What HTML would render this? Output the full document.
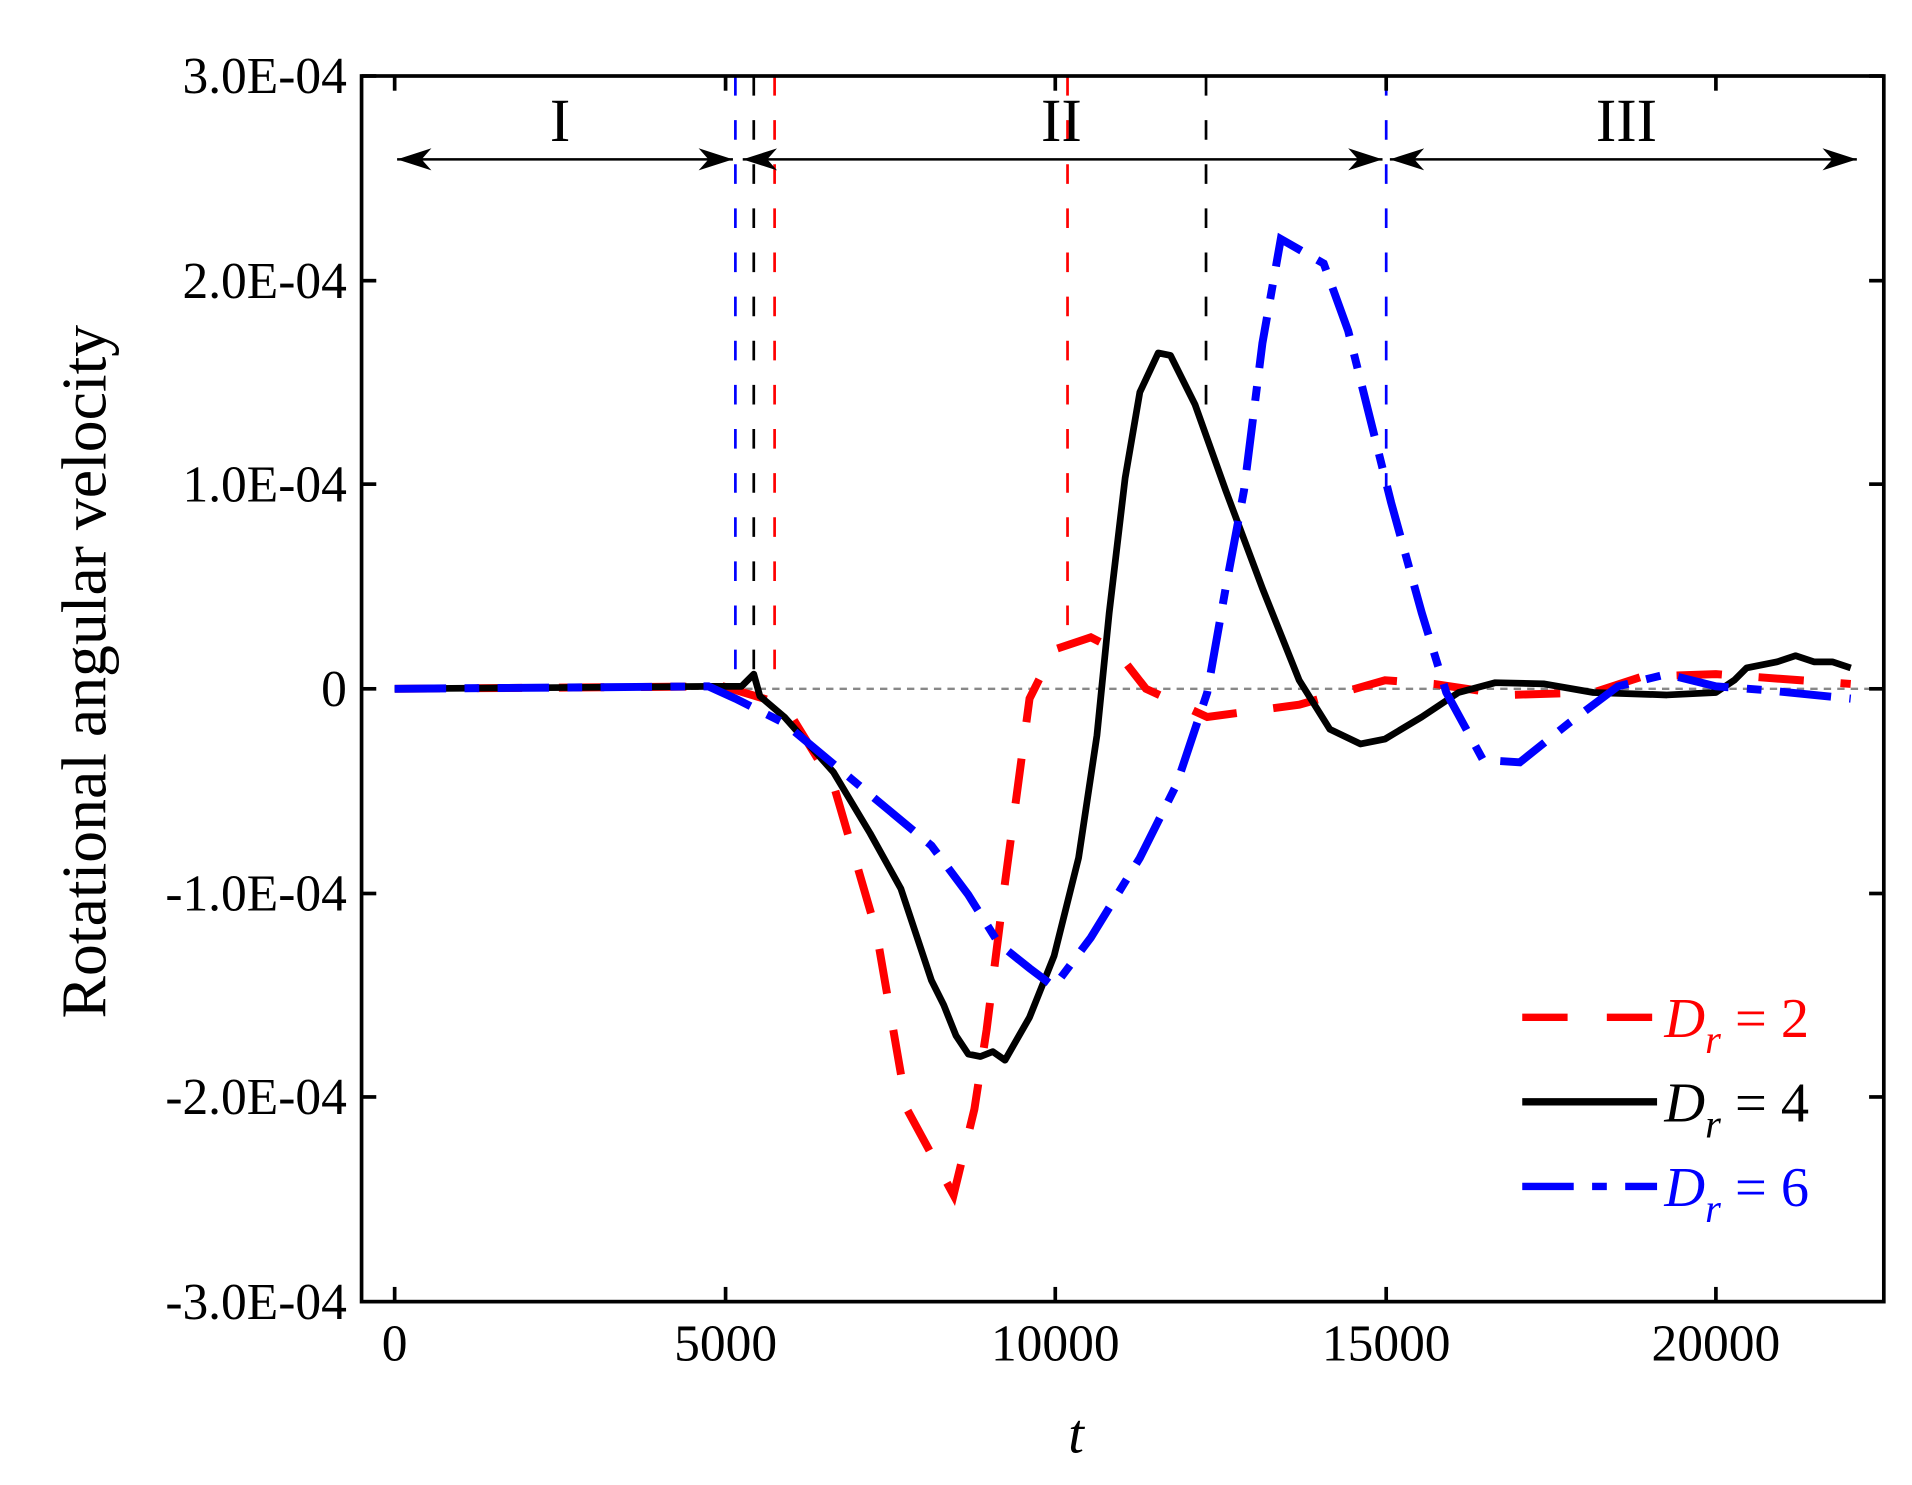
<!DOCTYPE html>
<html><head><meta charset="utf-8"><style>
html,body{margin:0;padding:0;background:#fff;width:1912px;height:1485px;overflow:hidden}
svg{display:block}
text{font-family:"Liberation Serif",serif}
</style></head><body>
<svg width="1912" height="1485" viewBox="0 0 1560 1211.6" xmlns="http://www.w3.org/2000/svg">
<defs>
<marker id="ar" markerWidth="30" markerHeight="20" refX="28" refY="10" orient="auto-start-reverse" markerUnits="userSpaceOnUse">
<path d="M0,1 L28,10 L0,19 L8,10 Z" fill="#000"/>
</marker>
</defs>
<line x1="322" y1="562" x2="1535" y2="562" stroke="#888" stroke-width="2" stroke-dasharray="6,5"/>
<g stroke-width="2.2" stroke-dasharray="16,20" fill="none">
<line x1="600" y1="62" x2="600" y2="562" stroke="#0000ff"/>
<line x1="615" y1="62" x2="615" y2="555" stroke="#000"/>
<line x1="632" y1="62" x2="632" y2="562" stroke="#ff0000"/>
<line x1="871" y1="62" x2="871" y2="525" stroke="#ff0000"/>
<line x1="984" y1="62" x2="984" y2="330" stroke="#000"/>
<line x1="1131" y1="62" x2="1131" y2="400" stroke="#0000ff"/>
</g>
<g stroke="#000" stroke-width="2">
<line x1="324" y1="130" x2="598" y2="130" marker-start="url(#ar)" marker-end="url(#ar)"/>
<line x1="606" y1="130" x2="1128" y2="130" marker-start="url(#ar)" marker-end="url(#ar)"/>
<line x1="1134" y1="130" x2="1515" y2="130" marker-start="url(#ar)" marker-end="url(#ar)"/>
</g>
<text x="457" y="115" font-size="50" text-anchor="middle">I</text>
<text x="866" y="115" font-size="50" text-anchor="middle">II</text>
<text x="1327" y="115" font-size="50" text-anchor="middle">III</text>
<polyline fill="none" stroke="#ff0000" stroke-width="6.5" stroke-dasharray="37,30" points="322,562 590,560 640,575 680,640 715,760 740,905 778,975 795,905 805,840 820,720 840,570 860,530 890,520 910,530 935,562 985,585 1060,575 1130,555 1170,558 1230,567 1300,565 1340,552 1400,550 1510,558"/>
<polyline fill="none" stroke="#000" stroke-width="5.5" stroke-linejoin="round" points="322,562 580,560 605,560 615,550 620,568 640,585 680,630 710,680 735,725 760,800 770,820 780,845 790,860 800,862 810,858 820,865 840,830 860,780 880,700 895,600 905,500 918,390 930,320 945,288 955,290 975,330 1000,400 1030,480 1060,555 1085,595 1110,607 1130,603 1160,585 1190,565 1220,557 1260,558 1300,565 1360,567 1400,565 1415,555 1425,545 1450,540 1465,535 1480,540 1495,540 1510,545"/>
<polyline fill="none" stroke="#0000ff" stroke-width="6.5" stroke-dasharray="42,15,12,15" points="322,562 578,560 600,570 640,590 700,640 760,690 790,730 815,770 840,790 860,805 890,765 930,700 960,640 985,565 1000,480 1015,400 1030,280 1045,195 1080,215 1100,270 1120,350 1135,410 1160,500 1180,565 1210,620 1240,622 1280,590 1320,560 1360,550 1400,560 1440,563 1510,570"/>
<rect x="295" y="62" width="1242" height="1000" fill="none" stroke="#000" stroke-width="3"/>
<g stroke="#000" stroke-width="3">
<line x1="295" y1="62" x2="307" y2="62"/><line x1="1525" y1="62" x2="1537" y2="62"/>
<line x1="295" y1="229" x2="307" y2="229"/><line x1="1525" y1="229" x2="1537" y2="229"/>
<line x1="295" y1="395" x2="307" y2="395"/><line x1="1525" y1="395" x2="1537" y2="395"/>
<line x1="295" y1="562" x2="307" y2="562"/><line x1="1525" y1="562" x2="1537" y2="562"/>
<line x1="295" y1="729" x2="307" y2="729"/><line x1="1525" y1="729" x2="1537" y2="729"/>
<line x1="295" y1="895" x2="307" y2="895"/><line x1="1525" y1="895" x2="1537" y2="895"/>
<line x1="322" y1="62" x2="322" y2="74"/><line x1="322" y1="1050" x2="322" y2="1062"/>
<line x1="592" y1="62" x2="592" y2="74"/><line x1="592" y1="1050" x2="592" y2="1062"/>
<line x1="861" y1="62" x2="861" y2="74"/><line x1="861" y1="1050" x2="861" y2="1062"/>
<line x1="1131" y1="62" x2="1131" y2="74"/><line x1="1131" y1="1050" x2="1131" y2="1062"/>
<line x1="1400" y1="62" x2="1400" y2="74"/><line x1="1400" y1="1050" x2="1400" y2="1062"/>
</g>
<g font-size="42" text-anchor="end">
<text x="283" y="76">3.0E-04</text>
<text x="283" y="243">2.0E-04</text>
<text x="283" y="409">1.0E-04</text>
<text x="283" y="576">0</text>
<text x="283" y="743">-1.0E-04</text>
<text x="283" y="909">-2.0E-04</text>
<text x="283" y="1076">-3.0E-04</text>
</g>
<g font-size="42" text-anchor="middle">
<text x="322" y="1110">0</text>
<text x="592" y="1110">5000</text>
<text x="861" y="1110">10000</text>
<text x="1131" y="1110">15000</text>
<text x="1400" y="1110">20000</text>
</g>
<text x="878" y="1185" font-size="46" font-style="italic" text-anchor="middle">t</text>
<text transform="translate(86,548) rotate(-90)" font-size="52" text-anchor="middle">Rotational angular velocity</text>
<line x1="1242" y1="830" x2="1352" y2="830" stroke="#ff0000" stroke-width="6" stroke-dasharray="37,32"/>
<line x1="1242" y1="899" x2="1352" y2="899" stroke="#000" stroke-width="6"/>
<line x1="1242" y1="968" x2="1352" y2="968" stroke="#0000ff" stroke-width="6" stroke-dasharray="42,15,12,15"/>
<g font-size="46">
<text x="1358" y="846" fill="#ff0000"><tspan font-style="italic">D</tspan><tspan font-style="italic" font-size="33" dy="13">r</tspan><tspan dy="-13"> = 2</tspan></text>
<text x="1358" y="915" fill="#000"><tspan font-style="italic">D</tspan><tspan font-style="italic" font-size="33" dy="13">r</tspan><tspan dy="-13"> = 4</tspan></text>
<text x="1358" y="984" fill="#0000ff"><tspan font-style="italic">D</tspan><tspan font-style="italic" font-size="33" dy="13">r</tspan><tspan dy="-13"> = 6</tspan></text>
</g>
</svg>
</body></html>
